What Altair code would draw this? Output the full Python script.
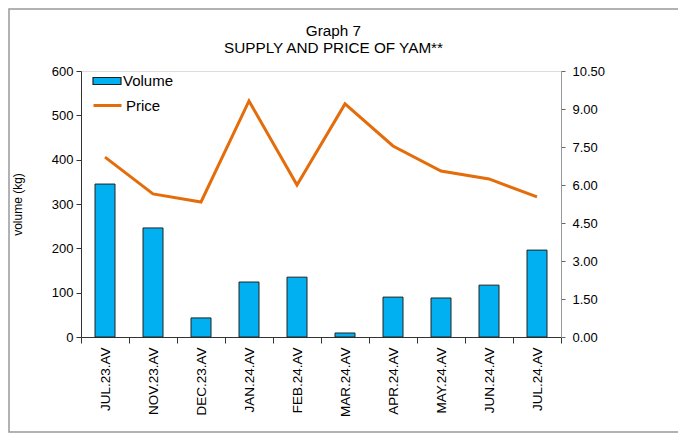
import altair as alt
import pandas as pd

categories = ["JUL.23.AV", "NOV.23.AV", "DEC.23.AV", "JAN.24.AV", "FEB.24.AV",
              "MAR.24.AV", "APR.24.AV", "MAY.24.AV", "JUN.24.AV", "JUL.24.AV"]
volume = [345, 246, 43, 124, 135, 9, 90, 88, 117, 196]
price = [7.10, 5.65, 5.33, 9.32, 6.00, 9.20, 7.54, 6.55, 6.24, 5.53]
left_ticks = [0, 100, 200, 300, 400, 500, 600]
right_ticks = [0, 1.5, 3.0, 4.5, 6.0, 7.5, 9.0, 10.5]

df = pd.DataFrame({"cat": categories, "volume": volume, "price": price,
                   "vlabel": ["Volume"] * len(categories),
                   "plabel": ["Price"] * len(categories)})

FONT = "Liberation Sans"
BLUE = "#00B0F0"
ORANGE = "#E46C0A"

x = alt.X("cat:N", sort=categories, title=None,
          scale=alt.Scale(paddingInner=0, paddingOuter=0),
          axis=alt.Axis(labelAngle=270, labelAlign="right", labelBaseline="middle",
                        labelFontSize=13.5, labelColor="black", labelPadding=4,
                        tickBand="extent", tickSize=6, tickColor="#333",
                        domainColor="#333", labelFont=FONT))

bars = alt.Chart(df).mark_bar(width=20, stroke="#222", strokeWidth=1).encode(
    x=x,
    y=alt.Y("volume:Q", title="volume (kg)",
            scale=alt.Scale(domain=[0, 600], nice=False),
            axis=alt.Axis(values=left_ticks, labelFontSize=13, labelColor="black",
                          labelPadding=3,
                          titleFontSize=12, titleFontWeight="normal", titleColor="black",
                          titlePadding=27, tickSize=5, tickColor="#333", domainColor="#333",
                          labelFont=FONT, titleFont=FONT, grid=False)),
    fill=alt.Fill("vlabel:N", scale=alt.Scale(domain=["Volume"], range=[BLUE]),
                  legend=alt.Legend(title=None, orient="none", legendX=11, legendY=-5,
                                    symbolType="M-1,-0.25L1,-0.25L1,0.25L-1,0.25Z",
                                    symbolSize=784, symbolStrokeColor="#222",
                                    symbolStrokeWidth=1.2, symbolFillColor=BLUE,
                                    labelFontSize=15, labelFont=FONT, labelColor="black",
                                    labelOffset=1, padding=0)),
)

line = alt.Chart(df).mark_line(strokeWidth=3).encode(
    x=x,
    y=alt.Y("price:Q", title=None,
            scale=alt.Scale(domain=[0, 10.5], nice=False),
            axis=alt.Axis(orient="right", values=right_ticks, format=".2f",
                          labelFontSize=13, labelColor="black", tickSize=4,
                          labelPadding=7,
                          tickColor="#666", domainColor="#999", labelFont=FONT,
                          grid=False)),
    stroke=alt.Stroke("plabel:N", scale=alt.Scale(domain=["Price"], range=[ORANGE]),
                      legend=alt.Legend(title=None, orient="none", legendX=11, legendY=19,
                                        symbolType="stroke", symbolSize=784,
                                        symbolStrokeWidth=3, labelFontSize=15,
                                        labelFont=FONT, labelColor="black",
                                        labelOffset=3, padding=0)),
)

frame = alt.Chart(pd.DataFrame({"a": [0]})).mark_rect(
    fill=None, stroke="#999", strokeWidth=1.5).encode(
    x=alt.value(-72), x2=alt.value(700), y=alt.value(-62), y2=alt.value(361))

chart = alt.layer(bars, line, frame).resolve_scale(y="independent").properties(
    width=480, height=266,
    title=alt.Title(["Graph 7", "SUPPLY AND PRICE OF YAM**"], fontSize=15.3,
                    fontWeight="normal", font=FONT, color="black", offset=-63,
                    baseline="bottom", dx=12.5, lineHeight=17),
    autosize=alt.AutoSizeParams(type="none"),
    padding={"left": 73, "top": 63, "right": 117, "bottom": 96},
).configure_view(stroke="#999", strokeWidth=1).configure(background="white")

chart.save("out.html", embed_options={"renderer": "svg", "actions": False})
